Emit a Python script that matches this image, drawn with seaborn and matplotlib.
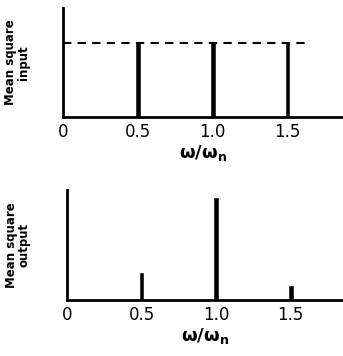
import numpy as np
import pandas as pd
import seaborn as sns
import matplotlib.pyplot as plt

# data
freqs = [0.5, 1.0, 1.5]
input_ms = [0.68, 0.68, 0.68]
output_ms = [0.25, 0.93, 0.13]
flat_level = 0.68
flat_end = 1.65
tick_vals = [0, 0.5, 1.0, 1.5]
tick_labels = ["0", "0.5", "1.0", "1.5"]

sns.set_theme(style="white")
plt.rcParams['font.family'] = ['DejaVu Sans']
plt.rcParams['mathtext.fontset'] = 'dejavusans'
plt.rcParams['text.color'] = 'black'
plt.rcParams['xtick.color'] = 'black'
plt.rcParams['axes.labelcolor'] = 'black'

fig = plt.figure(figsize=(3.43, 3.56), dpi=100)
ax1 = fig.add_axes([0.184, 0.671, 0.816, 0.307])
ax2 = fig.add_axes([0.195, 0.157, 0.805, 0.309])

panels = [
    (ax1, input_ms, "Mean square\ninput", 1.87, -0.12),
    (ax2, output_ms, "Mean square\noutput", 1.85, -0.13),
]

for ax, vals, ylab, xmax, lab_x in panels:
    df = pd.DataFrame({"freq": freqs, "ms": vals})
    sns.barplot(data=df, x="freq", y="ms", native_scale=True, width=0.05,
                color="black", saturation=1, edgecolor="black", linewidth=0.4,
                ax=ax)
    ax.set_xlim(0, xmax)
    ax.set_ylim(0, 1)
    ax.set_xticks(tick_vals)
    ax.set_xticklabels(tick_labels, fontsize=12)
    ax.set_yticks([])
    ax.tick_params(axis="x", length=0, pad=4)
    for s in ["top", "right"]:
        ax.spines[s].set_visible(False)
    for s in ["left", "bottom"]:
        ax.spines[s].set_color("black")
        ax.spines[s].set_linewidth(2)
    ax.set_xlabel(r"$\mathbf{\omega/\omega_n}$", fontsize=13, labelpad=2)
    ax.set_ylabel(ylab, fontsize=8.5, fontweight="bold", linespacing=0.95)
    ax.yaxis.set_label_coords(lab_x, 0.5)

sns.lineplot(x=[0, flat_end], y=[flat_level, flat_level], ax=ax1,
             color="black", linestyle=(0, (4, 3)), linewidth=1.5)

fig.savefig("out.png", dpi=100)
